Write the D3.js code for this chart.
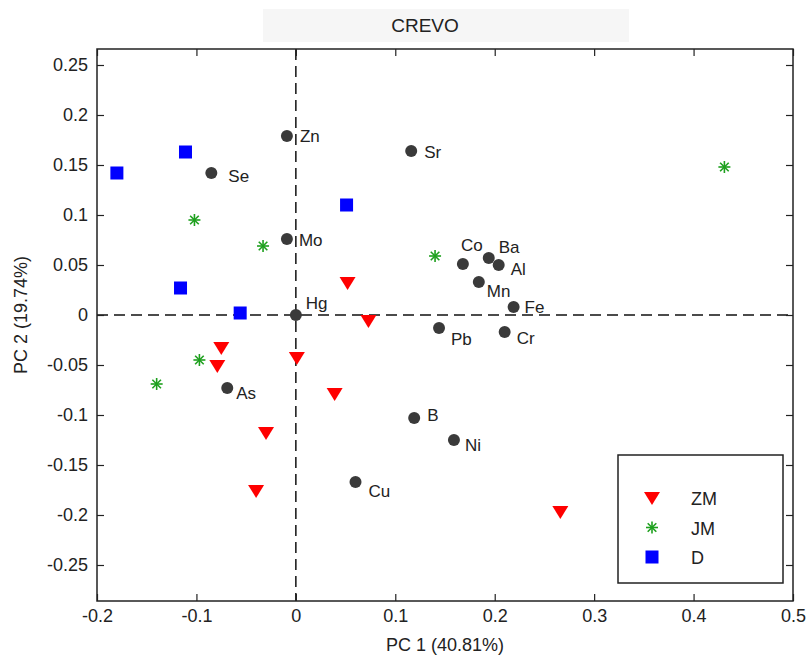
<!DOCTYPE html>
<html>
<head>
<meta charset="utf-8">
<script src="https://cdn.jsdelivr.net/npm/d3@7"></script>
<style>
  body { margin: 0; background: #fff; }
  text { font-family: "Liberation Sans", Arial, sans-serif; fill: #222; }
</style>
</head>
<body>
<div id="chart"></div>
<script>
// loadings (variables)
var varNames = ["Zn", "Sr", "Se", "Mo", "Co", "Ba", "Al", "Mn", "Fe", "Hg", "Pb", "Cr", "As", "B", "Ni", "Cu"];
var varPC1 = [-0.009, 0.116, -0.085, -0.009, 0.168, 0.194, 0.204, 0.184, 0.219, 0.0, 0.144, 0.210, -0.069, 0.119, 0.159, 0.060];
var varPC2 = [0.179, 0.164, 0.142, 0.076, 0.051, 0.057, 0.050, 0.033, 0.008, 0.0, -0.013, -0.017, -0.073, -0.103, -0.125, -0.167];

// scores per group
var zmPC1 = [0.052, 0.073, -0.075, -0.079, 0.001, 0.039, -0.030, -0.040, 0.266];
var zmPC2 = [0.032, -0.006, -0.033, -0.051, -0.043, -0.079, -0.118, -0.176, -0.197];
var jmPC1 = [0.431, -0.102, -0.033, 0.140, -0.097, -0.140];
var jmPC2 = [0.148, 0.095, 0.069, 0.059, -0.045, -0.069];
var dPC1 = [-0.111, -0.180, 0.051, -0.116, -0.056];
var dPC2 = [0.163, 0.142, 0.110, 0.027, 0.002];

var xTicks = [-0.2, -0.1, 0, 0.1, 0.2, 0.3, 0.4, 0.5];
var yTicks = [-0.25, -0.2, -0.15, -0.1, -0.05, 0, 0.05, 0.1, 0.15, 0.2, 0.25];
var groups = ["ZM", "JM", "D"];

// label offsets for the variable names (dx, dy from the dot)
var labelOff = {
  Zn: [13, 6], Sr: [13, 7], Se: [17, 9], Mo: [12, 7], Co: [-2, -13], Ba: [10, -5],
  Al: [12, 10], Mn: [8, 15], Fe: [11, 6], Hg: [10, -6], Pb: [12, 17], Cr: [12, 12],
  As: [9, 11], B: [13, 3], Ni: [11, 11], Cu: [13, 15]
};

var W = 808, H = 657;
var pLeft = 97, pRight = 793, pTop = 49, pBottom = 601;

var svg = d3.select("#chart").append("svg")
  .attr("width", W).attr("height", H);

var x = d3.scaleLinear().domain([-0.2, 0.5]).range([pLeft, pRight]);
var y = d3.scaleLinear().domain([-0.286, 0.266]).range([pBottom, pTop]);

var fmt = function(d) { return String(+d.toFixed(2)); };

// title
svg.append("rect").attr("x", 263).attr("y", 9).attr("width", 366).attr("height", 33)
  .attr("fill", "#f6f6f6");
svg.append("text").attr("x", 425).attr("y", 32).attr("text-anchor", "middle")
  .attr("font-size", 19).text("CREVO");

// zero lines
svg.append("line").attr("x1", x(0)).attr("x2", x(0)).attr("y1", pTop).attr("y2", pBottom)
  .attr("stroke", "#111").attr("stroke-width", 1.5).attr("stroke-dasharray", "11,6");
svg.append("line").attr("x1", pLeft).attr("x2", pRight).attr("y1", y(0)).attr("y2", y(0))
  .attr("stroke", "#111").attr("stroke-width", 1.5).attr("stroke-dasharray", "11,6");

// axes (ticks inward)
svg.append("g").attr("transform", "translate(0," + pBottom + ")")
  .call(d3.axisBottom(x).tickValues(xTicks).tickFormat(fmt).tickSizeInner(-7).tickSizeOuter(0).tickPadding(8));
svg.append("g").attr("transform", "translate(" + pLeft + ",0)")
  .call(d3.axisLeft(y).tickValues(yTicks).tickFormat(fmt).tickSizeInner(-7).tickSizeOuter(0).tickPadding(9));
svg.append("g").attr("transform", "translate(0," + pTop + ")")
  .call(d3.axisTop(x).tickValues(xTicks).tickFormat("").tickSizeInner(-7).tickSizeOuter(0));
svg.append("g").attr("transform", "translate(" + pRight + ",0)")
  .call(d3.axisRight(y).tickValues(yTicks).tickFormat("").tickSizeInner(-7).tickSizeOuter(0));
svg.selectAll(".domain").remove();
svg.selectAll(".tick line").attr("stroke", "#222").attr("stroke-width", 1.2);
svg.selectAll(".tick text").attr("font-size", 18).attr("fill", "#222")
  .style("font-family", "'Liberation Sans', Arial, sans-serif");

svg.append("rect").attr("x", pLeft).attr("y", pTop).attr("width", pRight - pLeft).attr("height", pBottom - pTop)
  .attr("fill", "none").attr("stroke", "#222").attr("stroke-width", 1.5);

// axis titles
svg.append("text").attr("x", 445).attr("y", 651).attr("text-anchor", "middle")
  .attr("font-size", 18).text("PC 1 (40.81%)");
svg.append("text").attr("transform", "translate(27,315) rotate(-90)").attr("text-anchor", "middle")
  .attr("font-size", 18).text("PC 2 (19.74%)");

// marker helpers
function triangle(g, cx, cy) {
  g.append("path").attr("d", "M" + (cx - 8) + "," + (cy - 6) + "L" + (cx + 8) + "," + (cy - 6) + "L" + cx + "," + (cy + 7) + "Z")
    .attr("fill", "#ff0000");
}
function star(g, cx, cy) {
  var r = 6, s = 4.3, c = "#1ea01e";
  [[-r, 0, r, 0], [0, -r, 0, r], [-s, -s, s, s], [-s, s, s, -s]].forEach(function(l) {
    g.append("line").attr("x1", cx + l[0]).attr("y1", cy + l[1]).attr("x2", cx + l[2]).attr("y2", cy + l[3])
      .attr("stroke", c).attr("stroke-width", 1.6);
  });
}
function square(g, cx, cy) {
  g.append("rect").attr("x", cx - 6.5).attr("y", cy - 6.5).attr("width", 13).attr("height", 13)
    .attr("fill", "#0000ff");
}

// variables
var gv = svg.append("g");
varNames.forEach(function(n, i) {
  var cx = x(varPC1[i]), cy = y(varPC2[i]);
  gv.append("circle").attr("cx", cx).attr("cy", cy).attr("r", 6).attr("fill", "#3a3a3a");
  gv.append("text").attr("x", cx + labelOff[n][0]).attr("y", cy + labelOff[n][1])
    .attr("font-size", 17).text(n);
});

var gp = svg.append("g");
zmPC1.forEach(function(v, i) { triangle(gp, x(v), y(zmPC2[i])); });
jmPC1.forEach(function(v, i) { star(gp, x(v), y(jmPC2[i])); });
dPC1.forEach(function(v, i) { square(gp, x(v), y(dPC2[i])); });

// legend
var lg = svg.append("g");
lg.append("rect").attr("x", 618).attr("y", 455).attr("width", 165).attr("height", 128)
  .attr("fill", "#fff").attr("stroke", "#222").attr("stroke-width", 1.5);
var drawers = [triangle, star, square];
groups.forEach(function(gname, i) {
  var ly = 498 + i * 29.5;
  drawers[i](lg, 652, ly);
  lg.append("text").attr("x", 691).attr("y", ly + 7).attr("font-size", 18).text(gname);
});
</script>
</body>
</html>
